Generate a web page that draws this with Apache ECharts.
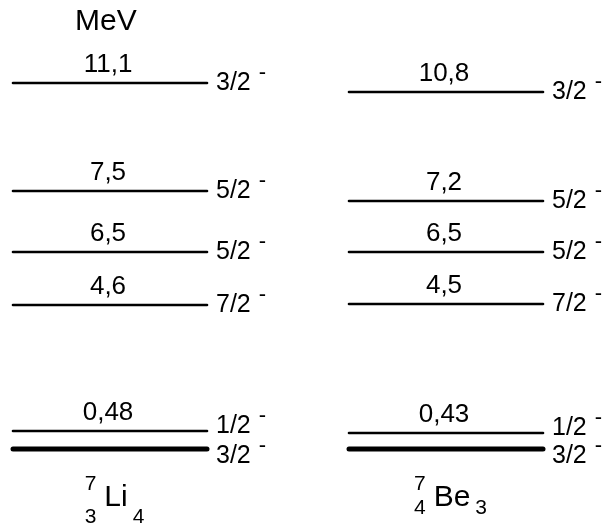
<!DOCTYPE html>
<html><head><meta charset="utf-8">
<script src="https://cdn.jsdelivr.net/npm/echarts@6/dist/echarts.min.js"></script>
<style>html,body{margin:0;padding:0;background:#fff}#c{width:606px;height:523px}</style>
</head><body><div id="c"></div>
<script>
// ---- data ----
const nuclei = ['Li', 'Be'];
const massNumbers = ['7', '7'];
const protonNumbers = ['3', '4'];
const neutronNumbers = ['4', '3'];
const parity = '-';
const unitLabel = 'MeV';
// schematic level heights (diagram units above the ground state)
const liLevelHeights = [0, 18, 144, 197, 258, 366];
const liEnergyLabels = ['', '0,48', '4,6', '6,5', '7,5', '11,1'];
const liSpins = ['3/2', '1/2', '7/2', '5/2', '5/2', '3/2'];
const beLevelHeights = [0, 16, 145, 197, 248, 357];
const beEnergyLabels = ['', '0,43', '4,5', '6,5', '7,2', '10,8'];
const beSpins = ['3/2', '1/2', '7/2', '5/2', '5/2', '3/2'];

// ---- styles ----
const FONT = '"Liberation Sans", Arial, sans-serif';
const HALF = 97;            // half level width, px
const subDrop = {Li: 19, Be: 10};
const levelTables = [
  {h: liLevelHeights, e: liEnergyLabels, s: liSpins},
  {h: beLevelHeights, e: beEnergyLabels, s: beSpins}
];
const mctx = document.createElement('canvas').getContext('2d');
function textW(t, size) { mctx.font = size + 'px ' + FONT; return mctx.measureText(t).width; }

function levelRender(params, api) {
  const col = params.seriesIndex;
  const i = params.dataIndex;
  const tbl = levelTables[col];
  const p = api.coord([col, tbl.h[i]]);
  const cx = p[0], y = p[1];
  const ground = i === 0;
  const children = [{
    type: 'line',
    shape: {x1: cx - HALF, y1: y, x2: cx + HALF, y2: y},
    style: {stroke: '#000', lineWidth: ground ? 5 : 2.6, lineCap: 'round'}
  }];
  if (tbl.e[i]) {
    children.push({type: 'text', x: cx - 2, y: y - 18,
      style: {text: tbl.e[i], fill: '#000', fontSize: 26, fontFamily: FONT, align: 'center', verticalAlign: 'middle'}});
  }
  const shift = ground ? 7 : (i === 1 ? -5 : 0);
  const lx = cx + HALF + 9, ly = y + shift;
  children.push({type: 'text', x: lx, y: ly,
    style: {text: tbl.s[i], fill: '#000', fontSize: 25, fontFamily: FONT, align: 'left', verticalAlign: 'middle'}});
  children.push({type: 'text', x: lx + textW(tbl.s[i], 25) + 8, y: ly - 10,
    style: {text: parity, fill: '#000', fontSize: 22, fontFamily: FONT, align: 'left', verticalAlign: 'middle'}});
  return {type: 'group', children: children};
}

function nucleusRender(params, api) {
  const i = params.dataIndex;
  const p = api.coord([i, 0]);
  const cx = p[0] + 6, y = p[1];
  const sym = nuclei[i];
  const w = textW(sym, 30);
  const sy = y + 49;
  return {type: 'group', children: [
    {type: 'text', x: cx, y: sy, style: {text: sym, fill: '#000', fontSize: 30, fontFamily: FONT, align: 'center', verticalAlign: 'middle'}},
    {type: 'text', x: cx - w / 2 - 8, y: sy - 14, style: {text: massNumbers[i], fill: '#000', fontSize: 21, fontFamily: FONT, align: 'right', verticalAlign: 'middle'}},
    {type: 'text', x: cx - w / 2 - 8, y: sy + subDrop[sym], style: {text: protonNumbers[i], fill: '#000', fontSize: 21, fontFamily: FONT, align: 'right', verticalAlign: 'middle'}},
    {type: 'text', x: cx + w / 2 + 5, y: sy + subDrop[sym], style: {text: neutronNumbers[i], fill: '#000', fontSize: 21, fontFamily: FONT, align: 'left', verticalAlign: 'middle'}}
  ]};
}

const chart = echarts.init(document.getElementById('c'), null, {renderer: 'canvas'});
chart.setOption({
  backgroundColor: '#fff',
  animation: false,
  title: {text: unitLabel, left: 75, top: 7, padding: 0,
    textStyle: {fontSize: 30, fontWeight: 'normal', fontFamily: FONT, color: '#000'}},
  grid: {left: 0, right: 0, top: 0, bottom: 0},
  xAxis: {type: 'value', min: -110 / 336, max: 496 / 336, show: false},
  yAxis: {type: 'value', min: -74, max: 449, show: false},
  series: [
    {type: 'custom', name: nuclei[0], renderItem: levelRender, clip: false,
      data: liLevelHeights.map(h => [0, h])},
    {type: 'custom', name: nuclei[1], renderItem: levelRender, clip: false,
      data: beLevelHeights.map(h => [1, h])},
    {type: 'custom', name: 'nuclei', renderItem: nucleusRender, clip: false,
      data: nuclei.map((n, k) => [k, 0])}
  ]
});
</script></body></html>
